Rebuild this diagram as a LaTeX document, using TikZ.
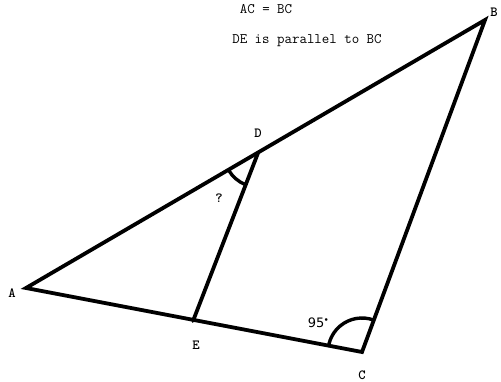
\documentclass[tikz,border=0pt]{standalone}
\usepackage{fontspec}
\newfontfamily\dvsans{DejaVu Sans}
\usetikzlibrary{calc}
\begin{document}
\begin{tikzpicture}[x=1pt,y=-1pt,
  side/.style={line width=3.8pt,line cap=round,line join=miter},
  anglearc/.style={line width=3.4pt},
  lbl/.style={font=\ttfamily\bfseries\fontsize{14}{16}\selectfont,inner sep=0pt},
  txt/.style={font=\ttfamily\fontsize{14.5}{16}\selectfont,inner sep=0pt}]
\useasboundingbox (0,0) rectangle (501,382);
\coordinate (A) at (26,288);
\coordinate (B) at (485,20);
\coordinate (C) at (362,352);
\coordinate (D) at (258,153);
\coordinate (E) at (193,321);
\draw[side] (A) -- (B) -- (C) -- cycle;
\draw[side] (D) -- (E);
\draw[anglearc] ($(D)!34pt!(A)$) arc[start angle=210.1,end angle=248.9,radius=34pt];
\draw[anglearc] ($(C)!34pt!(B)$) arc[start angle=69.7,end angle=169.6,radius=34pt];
\node[lbl] (lA) at (12,293) {A};
\node[lbl] (lB) at (494,12) {B};
\node[lbl] (lC) at (362,375) {C};
\node[lbl] (lD) at (258,133) {D};
\node[lbl] (lE) at (196,345) {E};
\node[lbl] (q) at (219,198) {?};
\node[font=\dvsans\fontsize{13}{15}\selectfont,inner sep=0pt] (ang) at (318,323) {95\raisebox{0.45em}{\fontsize{6}{6}\selectfont$\bullet$}};
\node[txt] (t1) at (266,9) {AC = BC};
\node[txt] (t2) at (307,41) {DE is parallel to BC};
\end{tikzpicture}
\end{document}
